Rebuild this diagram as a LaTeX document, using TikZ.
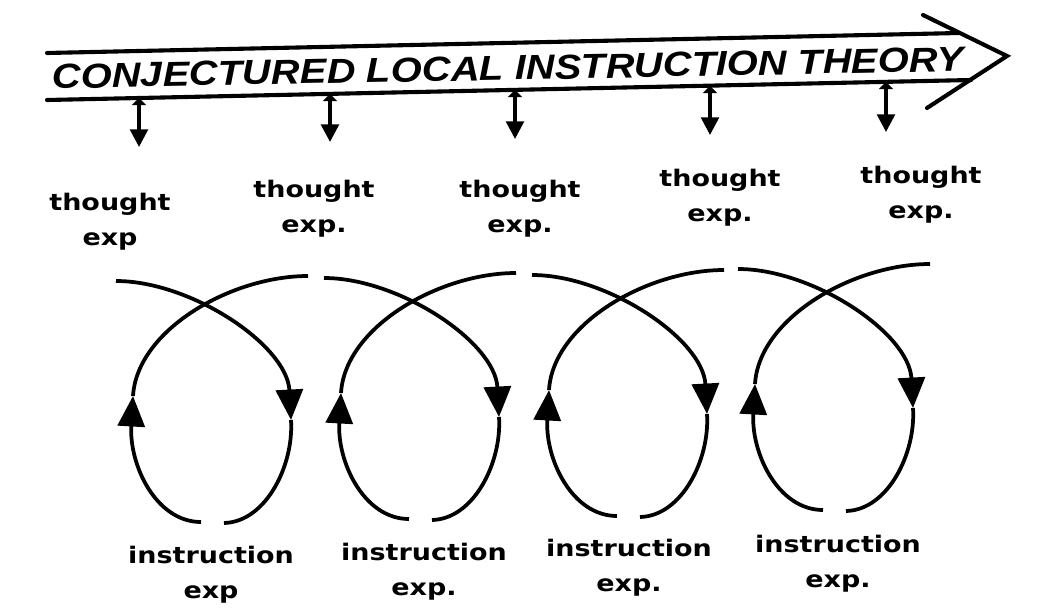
\documentclass[tikz,border=0pt]{standalone}
\usepackage{fontspec}
\setmainfont{DejaVu Sans}
\newfontfamily\titlefont{Liberation Sans}
\usetikzlibrary{arrows.meta}
\tikzset{
  bandline/.style  = {line width=3.5pt, line cap=round},
  tickarrow/.style = {line width=3pt,
                      {Triangle[length=6pt,width=12pt]}-{Triangle[length=15pt,width=15pt]}},
  loopline/.style  = {line width=3.2pt},
  looptip/.style   = {loopline, -{Triangle[length=26pt,width=23pt]}},
  explbl/.style    = {align=center, inner sep=0pt, anchor=north,
                      font=\bfseries\fontsize{19.5}{30}\selectfont,
                      xscale=1.18, transform shape}
}

\begin{document}
\begin{tikzpicture}[x=0.03cm, y=-0.03cm]
  \useasboundingbox (0,0) rectangle (1045,609);

  % the banner arrow
  \draw[bandline] (47,53) -- (959,33);
  \draw[bandline] (47,100) -- (971,80);
  \draw[bandline] (923,15) -- (1007,56) -- (927,108);
  \node[inner sep=0pt, xscale=1.15, rotate=1.25, transform shape,
        font=\titlefont\bfseries\itshape\fontsize{29.6}{30}\selectfont]
        (title) at (508,68) {CONJECTURED LOCAL INSTRUCTION THEORY};

  % short arrows down from the banner
  \foreach \x/\yt/\yb [count=\i] in {139/98/147, 330/94/142, 515/90/139,
                                     710/86/135, 886/82/132} {
    \coordinate (b\i) at (\x,\yt);
    \coordinate (e\i) at (\x,\yb);
    \draw[tickarrow] (b\i) -- (e\i);
  }

  % thought experiments
  \node[explbl] (th1) at (110,192.6) {thought\\exp};
  \node[explbl] (th2) at (314,179.6) {thought\\exp.};
  \node[explbl] (th3) at (520,179.6) {thought\\exp.};
  \node[explbl] (th4) at (720,168.6) {thought\\exp.};
  \node[explbl] (th5) at (921,165.6) {thought\\exp.};

  % cycles
  \foreach \cx/\cy in {211/300, 419/297, 627/294, 833/288} {
    \begin{scope}[shift={(\cx,\cy)}]
      \draw[looptip]  (-95,-19) .. controls (-20,-19) and (76,45) .. (80,120);
      \draw[loopline] (80,120) .. controls (83,165) and (55,222) .. (13,223);
      \draw[looptip]  (-10,222) .. controls (-55,222) and (-82,165) .. (-78,96);
      \draw[loopline] (-78,96) .. controls (-74,30) and (20,-24) .. (97,-24);
    \end{scope}
  }

  % instruction experiments
  \node[explbl] (in1) at (211,545.6) {instruction\\exp};
  \node[explbl] (in2) at (424,542.6) {instruction\\exp.};
  \node[explbl] (in3) at (629,538.6) {instruction\\exp.};
  \node[explbl] (in4) at (838,534.6) {instruction\\exp.};
\end{tikzpicture}
\end{document}
